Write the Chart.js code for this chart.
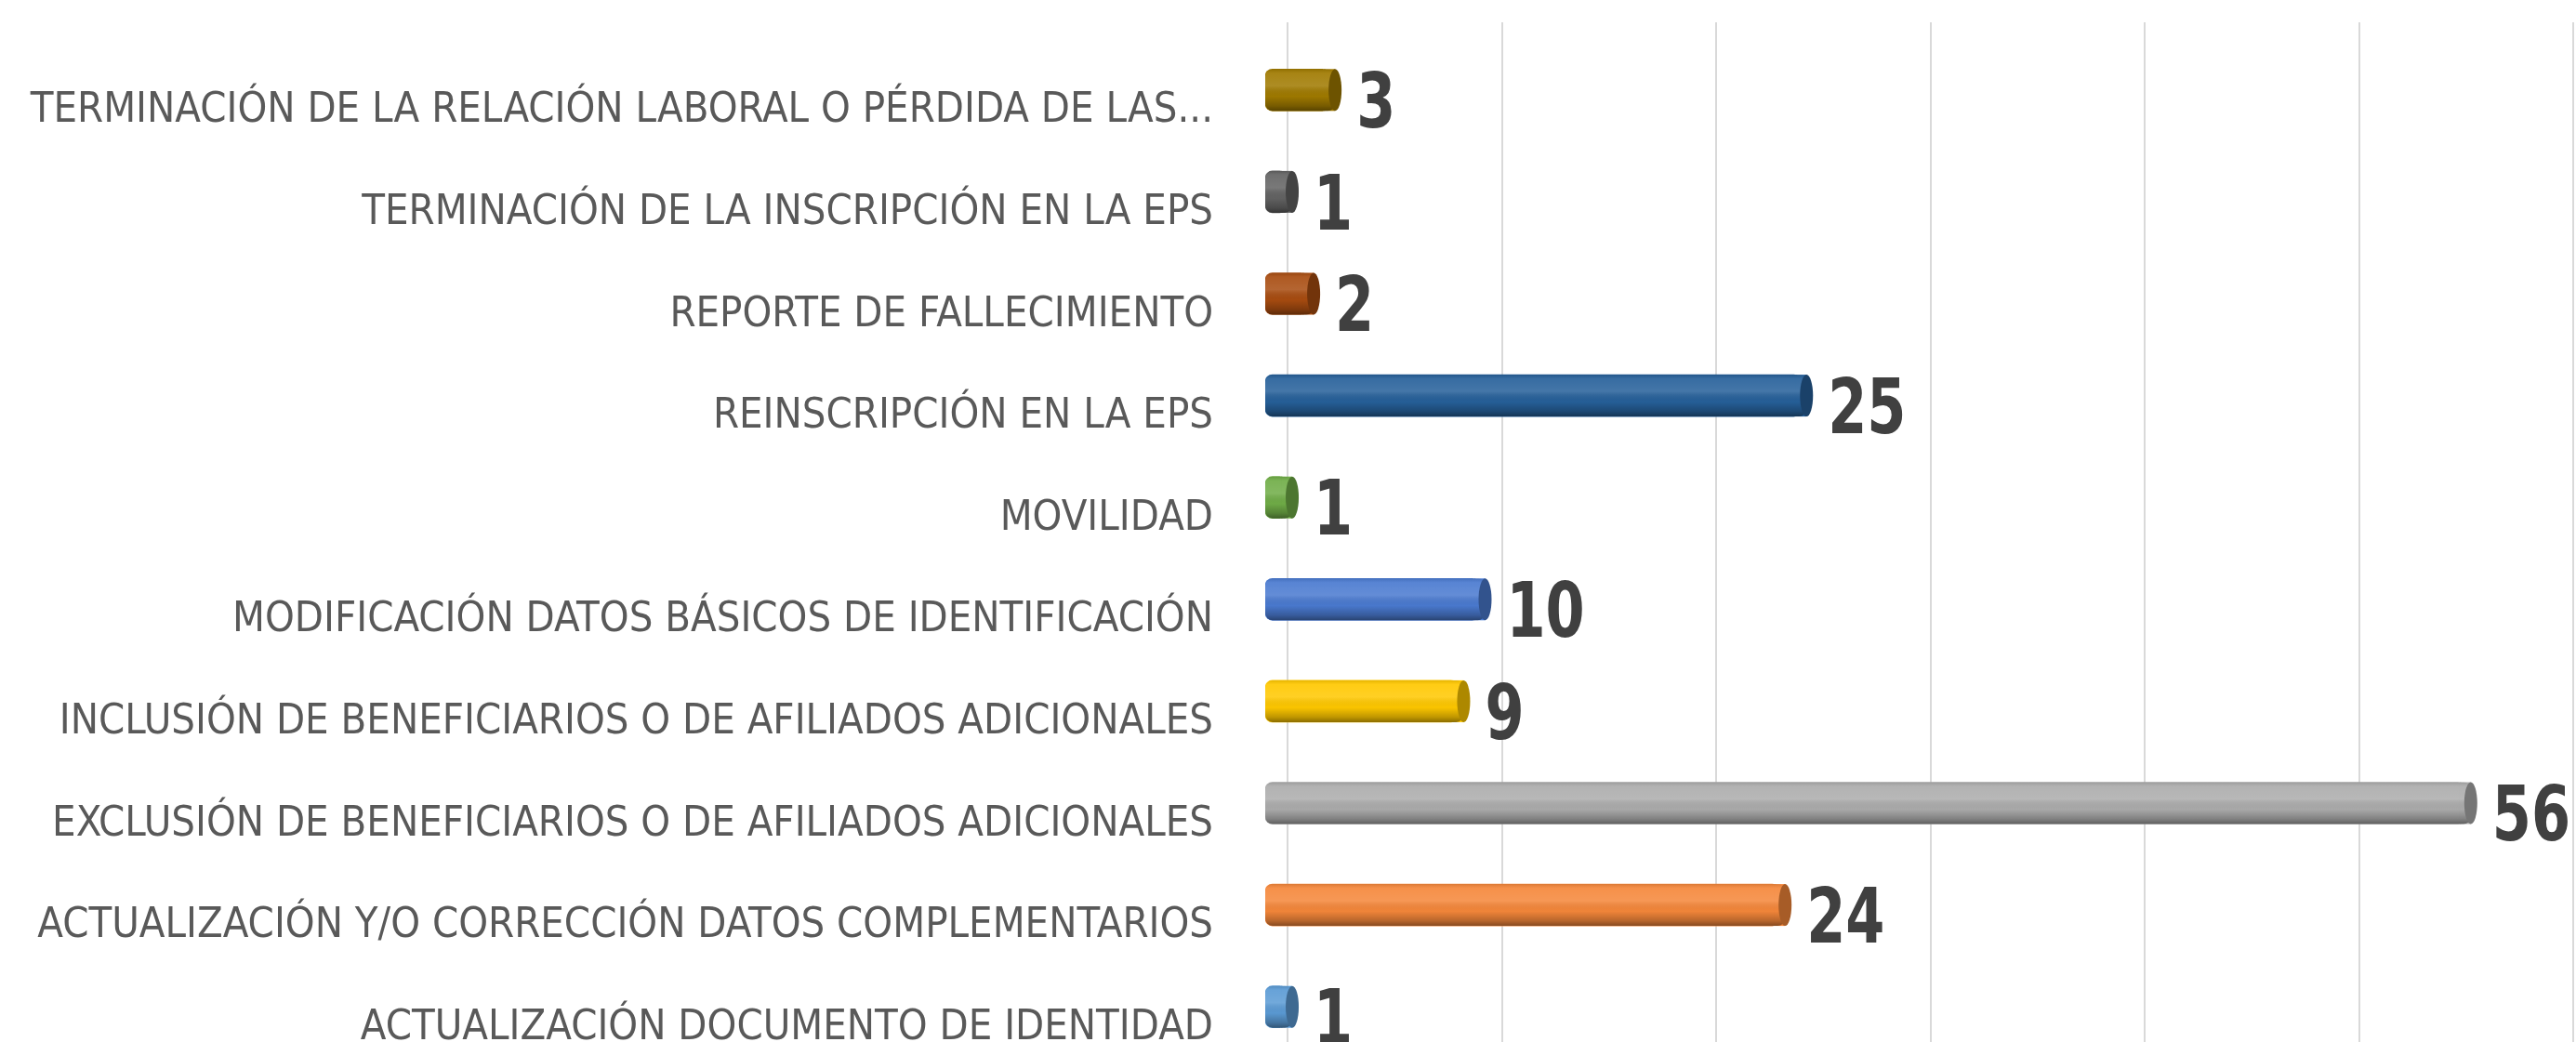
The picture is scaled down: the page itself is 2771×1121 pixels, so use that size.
<!DOCTYPE html>
<html>
<head>
<meta charset="utf-8">
<title>Novedades</title>
<script src="https://cdn.jsdelivr.net/npm/chart.js@4.4.1/dist/chart.umd.min.js"></script>
<style>
  html, body { margin: 0; padding: 0; background: #fff; overflow: hidden; }
  #wrap { position: absolute; left: 0; top: 0; width: 2771px; height: 1145px; }
</style>
</head>
<body>
<div id="wrap"><canvas id="chart"></canvas></div>
<script>
// data, top row first
const categories = [
  'TERMINACIÓN DE LA RELACIÓN LABORAL O PÉRDIDA DE LAS...',
  'TERMINACIÓN DE LA INSCRIPCIÓN EN LA EPS',
  'REPORTE DE FALLECIMIENTO',
  'REINSCRIPCIÓN EN LA EPS',
  'MOVILIDAD',
  'MODIFICACIÓN DATOS BÁSICOS DE IDENTIFICACIÓN',
  'INCLUSIÓN DE BENEFICIARIOS O DE AFILIADOS ADICIONALES',
  'EXCLUSIÓN DE BENEFICIARIOS O DE AFILIADOS ADICIONALES',
  'ACTUALIZACIÓN Y/O CORRECCIÓN DATOS COMPLEMENTARIOS',
  'ACTUALIZACIÓN DOCUMENTO DE IDENTIDAD'
];
const values = [3, 1, 2, 25, 1, 10, 9, 56, 24, 1];
const barColors = ['#a07a00', '#636363', '#a84c10', '#26609a', '#70ad47',
                   '#4a7ad0', '#ffc800', '#acacac', '#f5873a', '#5b9bd5'];
const gridTicks = [0, 10, 20, 30, 40, 50, 60];

const FONT = "'Liberation Sans Narrow', 'Arial Narrow', 'DejaVu Sans Condensed', sans-serif";
const depthX = 24;   // 3d back wall offset
const depthY = 18;
const capX = 6;      // how far the round end sticks out past the value

function shade(hex, amt) {
  const n = parseInt(hex.slice(1), 16);
  let r = n >> 16, g = (n >> 8) & 255, b = n & 255;
  const t = amt < 0 ? 0 : 255, p = Math.abs(amt);
  r = Math.round(r + (t - r) * p);
  g = Math.round(g + (t - g) * p);
  b = Math.round(b + (t - b) * p);
  return `rgb(${r},${g},${b})`;
}

const cylinderPlugin = {
  id: 'cylinder',
  beforeDatasetsDraw(chart) {
    const { ctx, chartArea, scales: { x } } = chart;
    ctx.save();
    ctx.strokeStyle = '#d9d9d9';
    ctx.lineWidth = 2;
    gridTicks.forEach(v => {
      const px = Math.round(x.getPixelForValue(v)) + depthX;
      ctx.beginPath();
      ctx.moveTo(px, chartArea.top - depthY);
      ctx.lineTo(px, chartArea.bottom);
      ctx.stroke();
    });
    ctx.restore();
  },
  afterDatasetsDraw(chart) {
    const { ctx } = chart;
    const meta = chart.getDatasetMeta(0);
    ctx.save();
    meta.data.forEach((bar, i) => {
      const h = bar.height;
      const top = bar.y - h / 2;
      const left = bar.base;
      const end = bar.x + capX;
      const w = end - left;

      // stretch the body to the cap centre
      ctx.fillStyle = barColors[i];
      ctx.fillRect(bar.x - 6, top, capX + 6, h);

      const g = ctx.createLinearGradient(0, top, 0, top + h);
      g.addColorStop(0, 'rgba(0,0,0,0.10)');
      g.addColorStop(0.1, 'rgba(255,255,255,0.08)');
      g.addColorStop(0.4, 'rgba(255,255,255,0.14)');
      g.addColorStop(0.65, 'rgba(0,0,0,0.02)');
      g.addColorStop(0.88, 'rgba(0,0,0,0.25)');
      g.addColorStop(1, 'rgba(0,0,0,0.45)');
      ctx.fillStyle = g;
      ctx.beginPath();
      ctx.roundRect(left, top, w, h, Math.min(8, w / 2));
      ctx.fill();

      // end face of the cylinder
      ctx.beginPath();
      ctx.ellipse(end, bar.y, 7, h / 2, 0, 0, Math.PI * 2);
      ctx.fillStyle = shade(barColors[i], -0.32);
      ctx.fill();

      // value label, squeezed like the narrow bold face of the original
      ctx.save();
      ctx.translate(end + 7 + 16, bar.y + 19);
      ctx.scale(0.82, 1);
      ctx.font = 'bold 82px ' + FONT;
      ctx.fillStyle = '#404040';
      ctx.textAlign = 'left';
      ctx.textBaseline = 'middle';
      ctx.fillText(String(values[i]), 0, 0);
      ctx.restore();
    });
    ctx.restore();
  }
};

new Chart(document.getElementById('chart'), {
  type: 'bar',
  data: {
    labels: categories,
    datasets: [{
      data: values,
      backgroundColor: barColors,
      borderWidth: 0,
      borderRadius: 8,
      borderSkipped: false,
      barThickness: 45
    }]
  },
  options: {
    indexAxis: 'y',
    responsive: true,
    maintainAspectRatio: false,
    animation: false,
    layout: { padding: { top: 42, bottom: 7, right: 27, left: 0 } },
    plugins: {
      legend: { display: false },
      tooltip: { enabled: false }
    },
    scales: {
      x: {
        display: false,
        min: 0,
        max: 60
      },
      y: {
        grid: { display: false },
        border: { display: false },
        afterFit(scale) {
          scale.width = 1361;
          scale.paddingTop = 0;
          scale.paddingBottom = 0;
        },
        ticks: {
          color: '#595959',
          padding: 48,
          labelOffset: 23,
          autoSkip: false,
          font: { family: FONT, size: 45 }
        }
      }
    }
  },
  plugins: [cylinderPlugin]
});
</script>
</body>
</html>
